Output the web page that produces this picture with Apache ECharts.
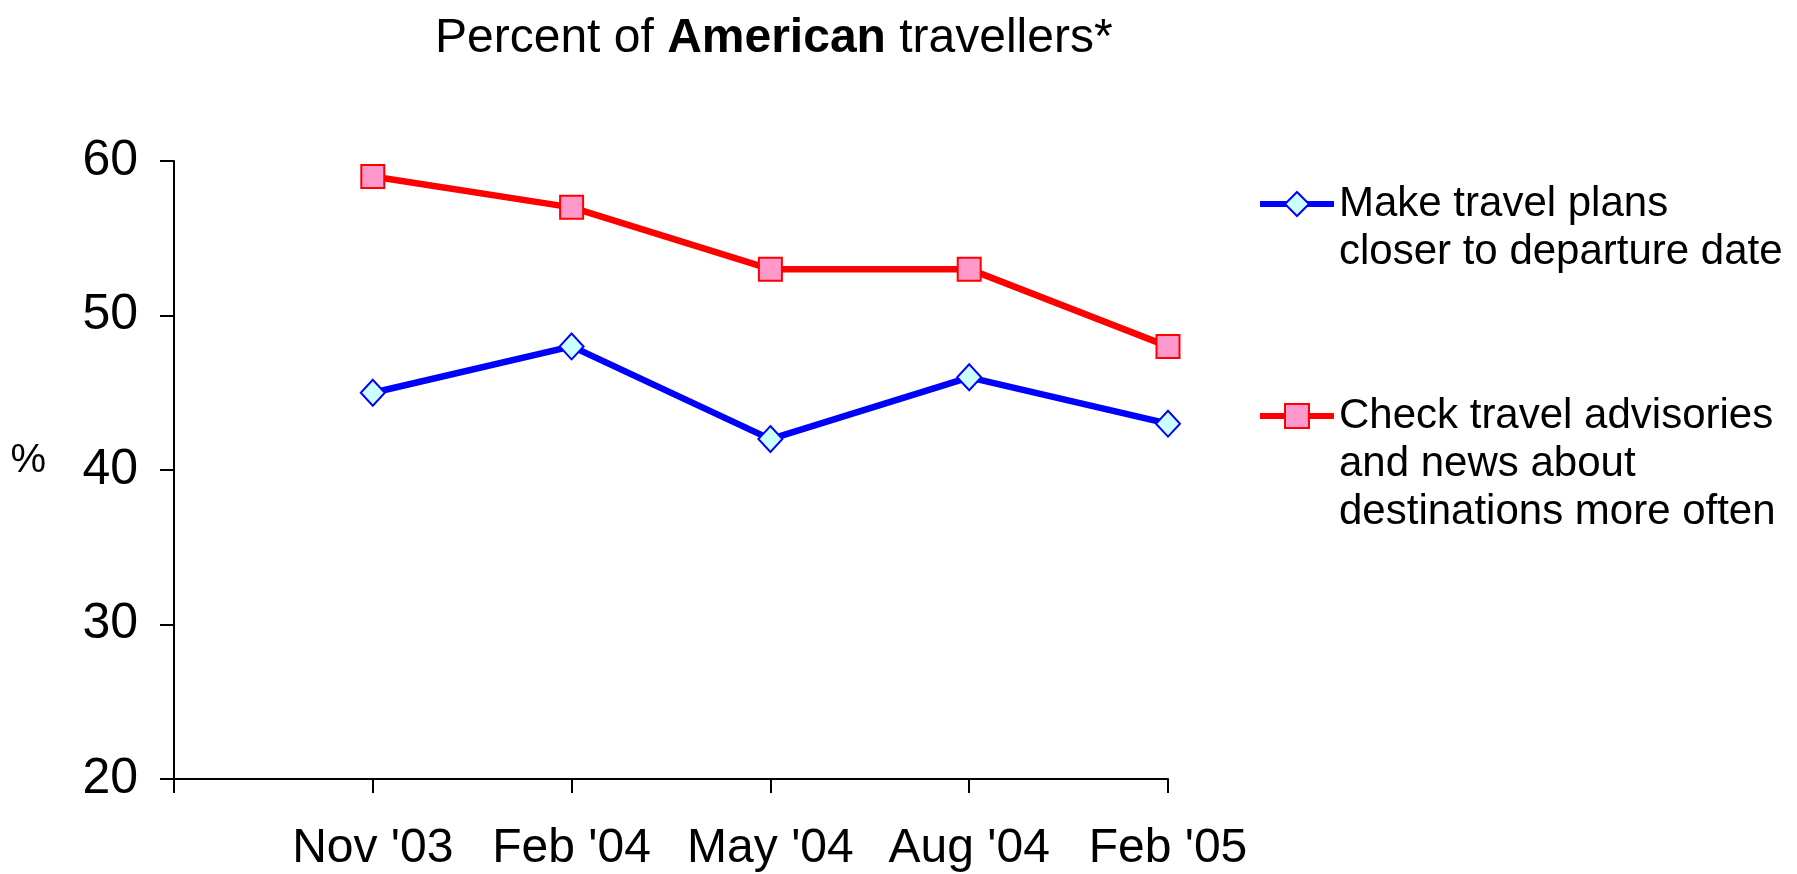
<!DOCTYPE html>
<html>
<head>
<meta charset="utf-8">
<script src="https://cdn.jsdelivr.net/npm/echarts@6/dist/echarts.min.js"></script>
<style>html,body{margin:0;padding:0;background:#fff}#c{width:1797px;height:874px}</style>
</head>
<body>
<div id="c"></div>
<script>
const categories = ['', "Nov '03", "Feb '04", "May '04", "Aug '04", "Feb '05"];
const seriesNames = ['Make travel plans\ncloser to departure date', 'Check travel advisories\nand news about\ndestinations more often'];
const planValues = [null, 45, 48, 42, 46, 43];
const advisoryValues = [null, 59, 57, 53, 53, 48];
const yTicks = [20, 30, 40, 50, 60];

const FONT = '"Liberation Sans", Arial, sans-serif';
function padTop(name) {
  const n = name.split('\n').length;
  return '\n'.repeat(n - 1) + name;
}
const legendBase = {
  left: 1257, orient: 'vertical', padding: 0,
  itemWidth: 74, itemHeight: 30, selectedMode: false,
  formatter: padTop,
  lineStyle: {width: 6},
  textStyle: {color: '#000', fontSize: 42, fontFamily: FONT, lineHeight: 48}
};
const chart = echarts.init(document.getElementById('c'));
chart.setOption({
  animation: false,
  backgroundColor: '#fff',
  title: {
    text: '{n|Percent of }{b|American}{n| travellers*}',
    left: 430, top: 10,
    textStyle: {
      rich: {
        n: {fontSize: 48, fontFamily: FONT, color: '#000', fontWeight: 'normal'},
        b: {fontSize: 48, fontFamily: FONT, color: '#000', fontWeight: 'bold'}
      }
    }
  },
  grid: {left: 174, right: 629, top: 161, bottom: 95, containLabel: false},
  xAxis: {
    type: 'category', data: categories, boundaryGap: false,
    axisLine: {lineStyle: {color: '#000', width: 2}},
    axisTick: {length: 14, lineStyle: {color: '#000', width: 2}, alignWithLabel: true},
    axisLabel: {color: '#000', fontSize: 48, fontFamily: FONT, margin: 46, interval: 0},
    splitLine: {show: false}
  },
  yAxis: {
    type: 'value', min: yTicks[0], max: yTicks[yTicks.length - 1], interval: 10,
    name: '%', nameLocation: 'middle', nameRotate: 0, nameGap: 128,
    nameTextStyle: {color: '#000', fontSize: 40, fontFamily: FONT, verticalAlign: 'bottom', lineHeight: 18},
    axisLine: {show: true, lineStyle: {color: '#000', width: 2}},
    axisTick: {show: true, length: 14, lineStyle: {color: '#000', width: 2}},
    axisLabel: {color: '#000', fontSize: 50, fontFamily: FONT, margin: 36},
    splitLine: {show: false}
  },
  legend: [
    Object.assign({}, legendBase, {data: [seriesNames[0]], top: 132}),
    Object.assign({}, legendBase, {data: [seriesNames[1]], top: 296})
  ],
  series: [
    {
      name: seriesNames[0], type: 'line', data: planValues,
      symbol: 'diamond', symbolSize: [24, 26],
      lineStyle: {color: '#0000FF', width: 6.5},
      itemStyle: {color: '#CCFFFF', borderColor: '#0000FF', borderWidth: 2},
      z: 3
    },
    {
      name: seriesNames[1], type: 'line', data: advisoryValues,
      symbol: 'rect', symbolSize: [23, 23],
      lineStyle: {color: '#FF0000', width: 6.5},
      itemStyle: {color: '#FF99CC', borderColor: '#FF0000', borderWidth: 2},
      z: 3
    }
  ]
});
</script>
</body>
</html>
